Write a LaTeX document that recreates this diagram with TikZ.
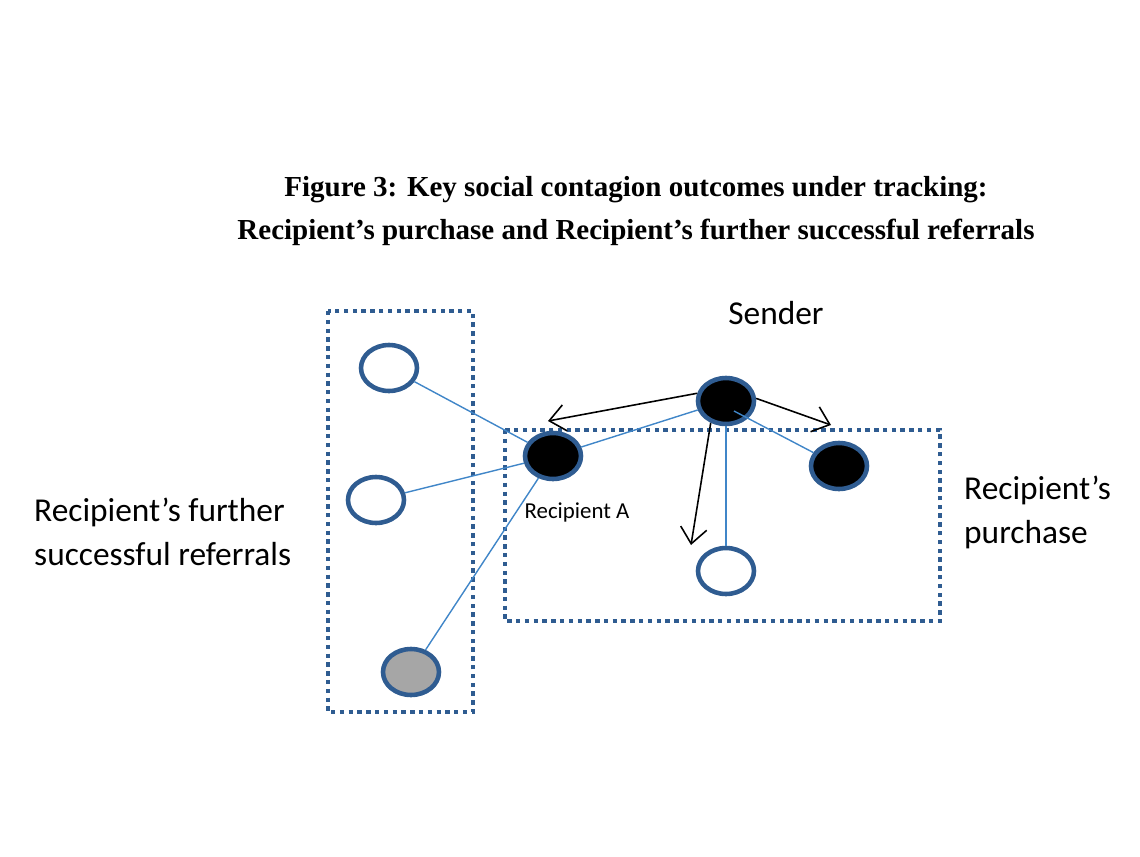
\documentclass[tikz,border=0pt]{standalone}
\usepackage{fontspec}
\setmainfont{Carlito}
\newfontfamily\titlefont{Liberation Serif}
\usetikzlibrary{shapes.geometric,arrows.meta}
\definecolor{ringblue}{RGB}{47,92,145}
\definecolor{linkblue}{RGB}{64,134,200}

\begin{document}
\begin{tikzpicture}[
    x=0.02cm, y=-0.02cm,
    person/.style={ellipse, draw=ringblue, line width=2.6pt, minimum width=1.12cm, minimum height=0.92cm, inner sep=0pt},
    buyer/.style={person, fill=black},
    other/.style={person, fill=white},
    referred/.style={person, fill=black!35},
    group/.style={draw=ringblue, line width=2.4pt, dash pattern=on 2.5pt off 2.5pt},
    link/.style={linkblue, line width=0.8pt},
    arrow/.style={-{Straight Barb[length=9pt,width=15pt]}, line width=0.9pt},
    label/.style={font=\fontsize{19}{25}\selectfont, align=left}
]
\useasboundingbox (0,0) rectangle (1140,856);

% Title
\node[font=\titlefont\bfseries\fontsize{16.5}{20}\selectfont, align=center] (title) at (636,211)
  {Figure 3: Key social contagion outcomes under tracking:\\[5pt]
   Recipient’s purchase and Recipient’s further successful referrals};

% Groups
\draw[group] (328,311) rectangle (473,712);
\draw[group] (505,430) rectangle (940,621);

% Nodes
\node[buyer] (sender) at (726,401) {};
\node[buyer] (recA) at (553,456) {};
\node[buyer] (buyer2) at (839,466) {};
\node[other] (nonbuyer) at (726,571) {};
\node[other] (ref1) at (389,368) {};
\node[other] (ref2) at (376,500) {};
\node[referred] (ref3) at (411,672) {};

% Labels
\node[label] (senderlabel) at (776,313) {Sender};
\node[font=\fontsize{13}{16}\selectfont] (recAlabel) at (577,512) {Recipient A};
\node[label, anchor=west] (leftlabel) at (28,532) {Recipient’s further\\successful referrals};
\node[label, anchor=west] (rightlabel) at (958,512) {Recipient’s\\purchase};

% Blue links
\draw[link] (sender) -- (recA);
\draw[link] (sender.center) ++(8,10) -- (buyer2);
\draw[link] (sender.south) -- (nonbuyer.north);
\draw[link] (recA) -- (ref1);
\draw[link] (recA) -- (ref2);
\draw[link] (recA) -- (ref3);

% Black arrows
\coordinate (tipA) at (548,421);
\coordinate (tipB) at (831,425);
\coordinate (tipC) at (691,545);
\draw[arrow] (sender.165) -- (tipA);
\draw[arrow] (sender.5) -- (tipB);
\draw[arrow] (sender.235) -- (tipC);

\end{tikzpicture}
\end{document}
